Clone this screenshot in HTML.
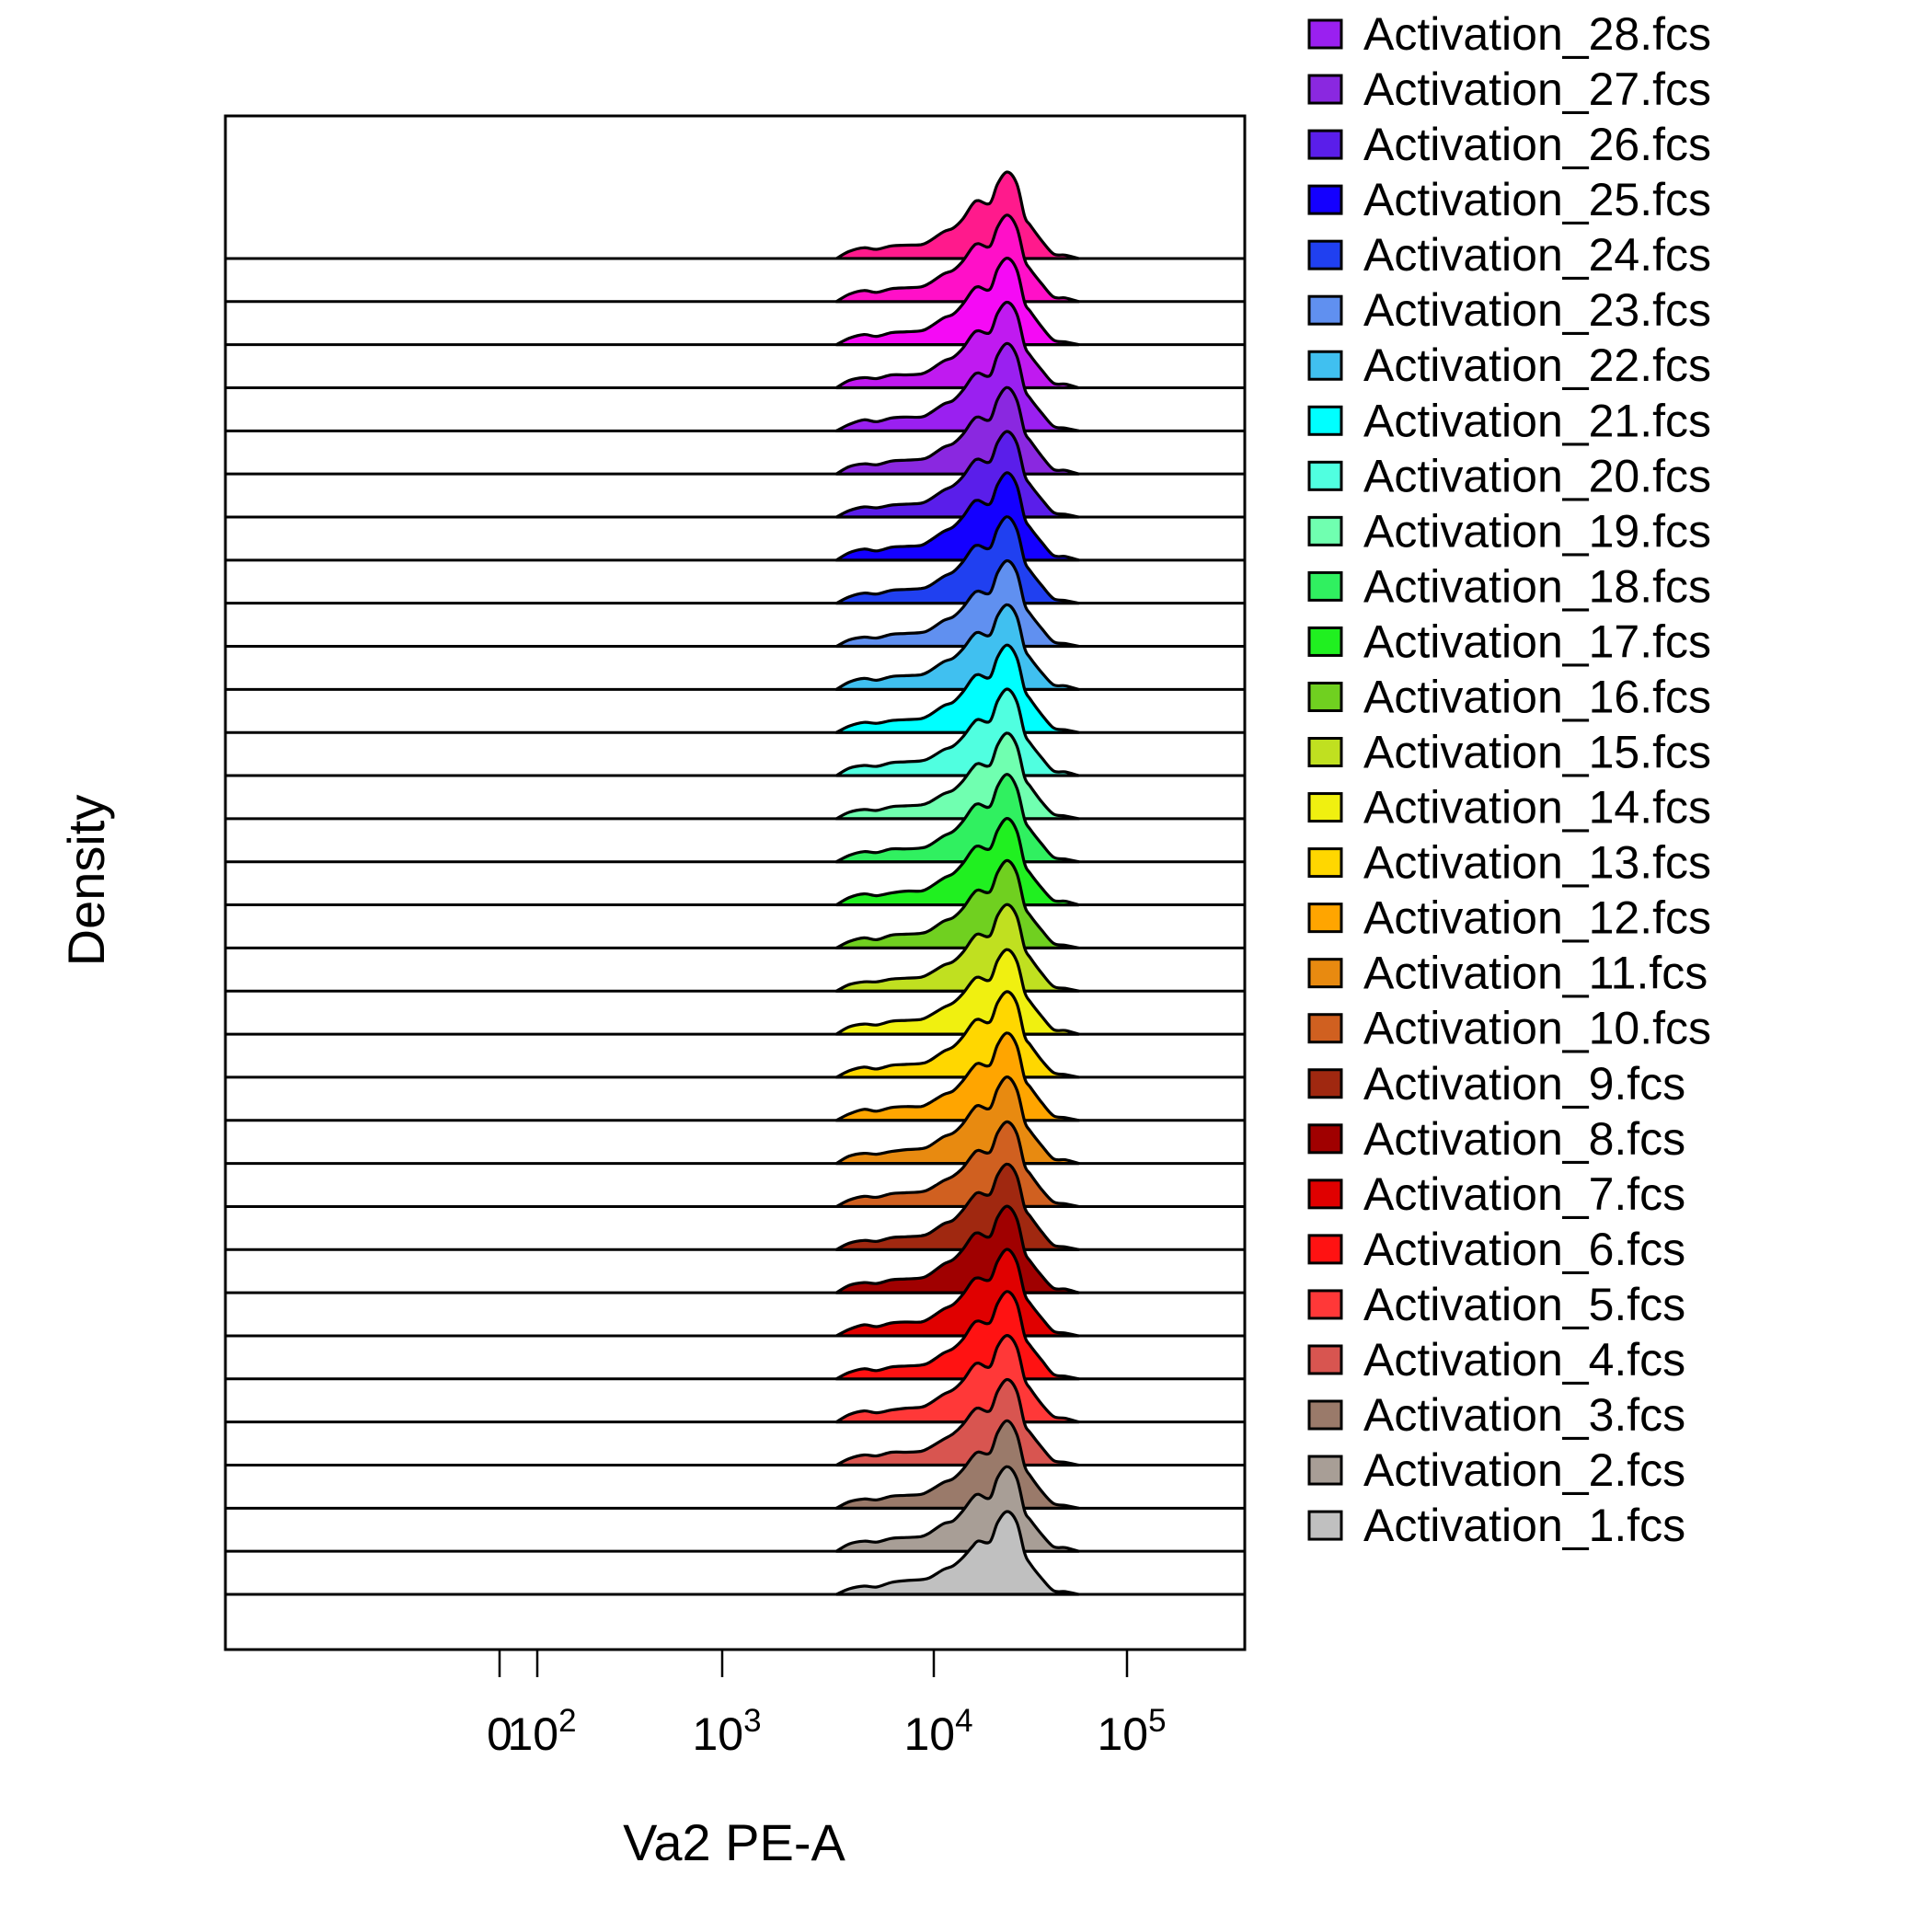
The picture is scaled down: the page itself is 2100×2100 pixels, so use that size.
<!DOCTYPE html>
<html><head><meta charset="utf-8"><style>
html,body{margin:0;padding:0;background:#fff;}
svg{display:block;font-family:"Liberation Sans",Arial,sans-serif;}
</style></head><body>
<svg id="chart" width="2100" height="2100" viewBox="0 0 2100 2100" xmlns="http://www.w3.org/2000/svg">
<rect x="0" y="0" width="2100" height="2100" fill="#fff"/>
<g id="curves"></g>
<rect x="245" y="126" width="1108" height="1667" fill="none" stroke="#000" stroke-width="3"/>
<g id="xaxis"></g>
<text x="798" y="2022" font-size="56" text-anchor="middle">Va2 PE-A</text>
<text x="113" y="957" font-size="56" text-anchor="middle" transform="rotate(-90 113 957)">Density</text>
<g id="legend"></g>
</svg>
<script>
const tickValues = [0, 100, 1000, 10000, 100000];
const tickMain = ["0", "10", "10", "10", "10"];
const tickSup = ["", "2", "3", "4", "5"];
const xLogs = [3.54,3.6,3.67,3.73,3.8,3.87,3.94,3.98,4.05,4.1,4.15,4.2,4.23,4.29,4.33,4.38,4.43,4.47,4.5,4.56,4.62,4.68,4.75];
const sampleColors = ["#C0C0C0","#A89E96","#9A7A6A","#D85550","#FF3838","#FF1212","#E00000","#A00000","#A02810","#D06020","#E88A10","#FFA500","#FFD700","#F0F010","#C0E020","#70D020","#20F020","#30F060","#70FFB0","#50FFE0","#00FFFF","#40C0F0","#6090F0","#2040F0","#1400FF","#5A1EEA","#8A28E0","#9A20F0","#C01AF0","#F50AF5","#FF10C8","#FF1A8C"];
const densities = [
[0,6,9,8,13,15,16,18,27,31,40,52,58,57,78,90,78,45,33,17,4,3,0],
[0,8,11,10,14,15,16,20,30,33,44,58,62,58,80,92,79,44,34,18,5,4,0],
[0,7,10,9,13,14,15,19,28,32,42,56,61,60,82,95,80,46,35,18,5,3,0],
[0,7,11,10,14,14,15,19,28,34,44,58,62,59,80,93,80,45,35,19,5,3,0],
[0,8,12,10,13,15,16,20,30,35,45,60,64,60,82,94,81,47,36,19,6,4,0],
[0,7,11,9,13,14,15,18,28,33,43,59,63,61,82,95,82,47,36,20,5,3,0],
[0,7,12,10,14,15,15,19,29,34,45,60,63,61,81,94,80,46,35,19,5,3,0],
[0,8,11,10,14,15,16,20,31,36,47,62,65,61,82,94,80,45,34,18,5,4,0],
[0,7,10,9,13,14,15,18,28,32,43,57,62,60,81,93,80,46,36,19,5,3,0],
[0,7,11,10,14,15,16,19,28,33,42,56,61,59,80,92,79,45,35,18,5,3,0],
[0,8,11,10,13,15,16,19,29,33,43,58,63,60,81,94,80,46,35,19,5,4,0],
[0,7,12,10,14,15,15,19,28,32,43,57,62,60,82,95,81,46,36,19,5,3,0],
[0,7,11,9,13,14,15,18,28,33,44,59,63,60,81,93,80,45,35,18,5,3,0],
[0,8,11,10,14,15,16,20,29,34,44,58,62,59,80,92,79,46,35,19,5,4,0],
[0,7,10,10,13,14,15,19,28,32,42,57,62,60,82,94,81,47,36,19,5,3,0],
[0,7,11,9,14,15,16,19,29,33,43,58,63,61,82,95,81,46,35,19,5,3,0],
[0,8,12,10,13,15,15,19,29,34,45,60,64,61,81,94,80,45,34,18,5,4,0],
[0,7,11,10,14,14,15,18,28,33,44,59,63,60,82,95,80,46,35,19,5,3,0],
[0,7,10,9,13,14,15,18,27,31,41,55,60,58,80,93,79,45,35,18,5,3,0],
[0,8,11,10,14,15,16,19,28,32,42,56,61,59,81,94,80,46,35,19,5,4,0],
[0,7,11,10,13,14,15,19,29,33,44,59,63,60,82,95,81,47,36,19,5,3,0],
[0,8,12,10,14,15,16,20,30,34,44,58,62,59,80,92,79,45,34,18,5,4,0],
[0,7,10,9,13,14,15,18,28,32,42,56,60,58,80,93,80,46,35,19,5,3,0],
[0,7,11,10,14,15,16,19,29,34,45,60,63,60,81,94,80,46,35,19,5,3,0],
[0,8,12,10,14,15,16,21,31,36,47,62,65,61,82,95,81,46,35,19,5,4,0],
[0,7,11,10,13,14,15,19,29,34,44,59,63,60,81,93,80,46,35,19,5,3,0],
[0,8,11,10,14,15,16,19,29,33,43,58,62,59,81,94,80,46,36,19,5,4,0],
[0,7,12,10,14,15,15,19,29,33,44,59,63,60,82,95,81,46,35,19,5,3,0],
[0,8,11,10,14,14,15,19,29,33,43,58,62,60,81,93,80,46,35,19,5,4,0],
[0,7,11,9,13,14,15,19,29,33,44,59,63,60,82,94,81,46,36,19,5,3,0],
[0,8,12,10,14,15,16,20,30,34,44,59,63,60,81,94,80,46,35,19,5,4,0],
[0,7.7,11.7,10,13.7,14.5,15,19,29,33,43,59,63,60,81,94,81,46,36,19,5,3.7,0]
];
const legendLabels = [];
for (let i = 28; i >= 1; i--) legendLabels.push("Activation_" + i + ".fcs");

const NS = "http://www.w3.org/2000/svg";
const frameL = 245, frameR = 1353, frameB = 1793;
const baseBottom = 1733, baseStep = 46.84, yUnit = 1.0;
const anchorLog = [2, 3, 4, 5];
const anchorPx = [584, 785, 1015, 1225];
function xLog(l) {
  let i = 0;
  if (l > anchorLog[2]) i = 2; else if (l > anchorLog[1]) i = 1;
  const t = (l - anchorLog[i]) / (anchorLog[i+1] - anchorLog[i]);
  return anchorPx[i] + t * (anchorPx[i+1] - anchorPx[i]);
}
function xVal(v) { return v <= 0 ? 543 : xLog(Math.log10(v)); }
function baseY(i) { return baseBottom - i * baseStep; }
function yPos(i, d) { return baseY(i) - d * yUnit; }

function smoothPath(pts) {
  let d = "M" + pts[0][0] + "," + pts[0][1];
  for (let i = 0; i < pts.length - 1; i++) {
    const p0 = pts[Math.max(i-1,0)], p1 = pts[i], p2 = pts[i+1], p3 = pts[Math.min(i+2, pts.length-1)];
    const c1x = p1[0] + (p2[0]-p0[0])/6, c1y = p1[1] + (p2[1]-p0[1])/6;
    const c2x = p2[0] - (p3[0]-p1[0])/6, c2y = p2[1] - (p3[1]-p1[1])/6;
    d += " C" + c1x.toFixed(1) + "," + c1y.toFixed(1) + " " + c2x.toFixed(1) + "," + c2y.toFixed(1) + " " + p2[0].toFixed(1) + "," + p2[1].toFixed(1);
  }
  return d;
}

const gC = document.getElementById("curves");
for (let i = densities.length - 1; i >= 0; i--) {
  const by = baseY(i);
  const ln = document.createElementNS(NS, "line");
  
  
  ln.setAttribute("x1", frameL); ln.setAttribute("x2", frameR);
  ln.setAttribute("y1", by); ln.setAttribute("y2", by);
  ln.setAttribute("stroke", "#000"); ln.setAttribute("stroke-width", "3");
  gC.appendChild(ln);
  const pts = xLogs.map((l, k) => [xLog(l), yPos(i, densities[i][k])]);
  const p = document.createElementNS(NS, "path");
  
  
  p.setAttribute("d", smoothPath(pts) + " Z");
  p.setAttribute("fill", sampleColors[i]);
  p.setAttribute("stroke", "#000"); p.setAttribute("stroke-width", "3.2");
  p.setAttribute("stroke-linejoin", "round");
  gC.appendChild(p);
}

const gX = document.getElementById("xaxis");
tickValues.forEach((v, k) => {
  const x = xVal(v);
  const t = document.createElementNS(NS, "line");
  
  
  t.setAttribute("x1", x); t.setAttribute("x2", x);
  t.setAttribute("y1", frameB); t.setAttribute("y2", 1823);
  t.setAttribute("stroke", "#000"); t.setAttribute("stroke-width", "2.5");
  gX.appendChild(t);
  const tx = document.createElementNS(NS, "text");
  
  
  tx.setAttribute("x", x + (tickSup[k] ? 5 : 0)); tx.setAttribute("y", 1902);
  tx.setAttribute("font-size", "50"); tx.setAttribute("text-anchor", "middle");
  tx.textContent = tickMain[k];
  if (tickSup[k]) {
    const s = document.createElementNS(NS, "tspan");
    s.setAttribute("dy", "-20"); s.setAttribute("font-size", "35");
    s.textContent = tickSup[k];
    tx.appendChild(s);
  }
  gX.appendChild(tx);
});

const gL = document.getElementById("legend");
legendLabels.forEach((lab, k) => {
  const cy = 37 + k * 60.04;
  const idx = 27 - k;
  const r = document.createElementNS(NS, "rect");
  
  
  r.setAttribute("x", 1423); r.setAttribute("y", cy - 15);
  r.setAttribute("width", 35); r.setAttribute("height", 30);
  r.setAttribute("fill", sampleColors[idx]);
  r.setAttribute("stroke", "#000"); r.setAttribute("stroke-width", "3");
  gL.appendChild(r);
  const t = document.createElementNS(NS, "text");
  
  
  t.setAttribute("x", 1482); t.setAttribute("y", cy + 17);
  t.setAttribute("font-size", "50");
  t.textContent = lab;
  gL.appendChild(t);
});
</script>
</body></html>
